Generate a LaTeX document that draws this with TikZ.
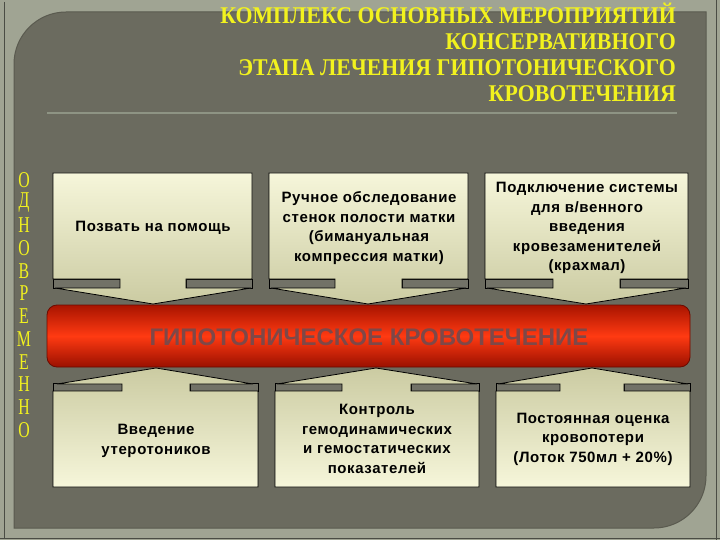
\documentclass[tikz,border=0pt]{standalone}
\usepackage{fontspec}
\setmainfont{Liberation Sans}
\newfontfamily\titlefont{Liberation Serif}[FakeStretch=0.91]
\newfontfamily\vertfont{Liberation Serif}[FakeStretch=0.7]
\newfontfamily\boxfont{Liberation Sans}[LetterSpace=4]
\definecolor{framecol}{HTML}{A0A493}
\definecolor{frameedge}{HTML}{4A4C44}
\definecolor{panelcol}{HTML}{6B6B5F}
\definecolor{paneledge}{HTML}{5A5A4F}
\definecolor{rulecol}{HTML}{8E9484}
\definecolor{titleyellow}{HTML}{F2F21E}
\definecolor{boxlight}{HTML}{F6F6DA}
\definecolor{boxdark}{HTML}{CBCBA2}
\definecolor{stripcol}{HTML}{727267}
\definecolor{bandtop}{HTML}{A81400}
\definecolor{bandmid}{HTML}{FF3A12}
\definecolor{bandbot}{HTML}{9A1000}
\definecolor{bandtext}{HTML}{7E4848}
\tikzset{
  titletext/.style={anchor=base east, inner sep=0pt, text=titleyellow, font=\titlefont\bfseries\fontsize{24}{26}\selectfont},
  vertletter/.style={inner sep=0pt, text=titleyellow, font=\vertfont\fontsize{22.6}{24}\selectfont},
  downbox/.style={draw=black, line width=0.8pt, top color=boxlight, bottom color=boxdark},
  upbox/.style={draw=black, line width=0.8pt, top color=boxdark, bottom color=boxlight},
  strip/.style={draw=black, line width=0.6pt, fill=stripcol},
  boxtext/.style={align=center, inner sep=0pt, text=black, font=\boxfont\bfseries\fontsize{15}{19.5}\selectfont},
}
\begin{document}
\begin{tikzpicture}[x=1pt,y=-1pt]
\useasboundingbox (0,0) rectangle (720,540);
% outer frame
\fill[framecol] (0,0) rectangle (720,540);
\draw[frameedge, line width=1pt] (4,2) -- (4,538);
\draw[frameedge, line width=1.5pt] (0,538.5) -- (720,538.5);
\draw[frameedge, line width=1pt] (716,0) -- (716,540);
% panel
\fill[panelcol, draw=paneledge, line width=1pt] (14,528) -- (14,300) [rounded corners=52pt] -- (14,12) -- (300,12) [sharp corners] -- (706,12) -- (706,300) [rounded corners=52pt] -- (706,528) -- (300,528) [sharp corners] -- cycle;
% title
\node[titletext] (t1) at (676,24) {КОМПЛЕКС ОСНОВНЫХ МЕРОПРИЯТИЙ};
\node[titletext] (t2) at (676,50) {КОНСЕРВАТИВНОГО};
\node[titletext] (t3) at (676,76) {ЭТАПА ЛЕЧЕНИЯ ГИПОТОНИЧЕСКОГО};
\node[titletext] (t4) at (676,102) {КРОВОТЕЧЕНИЯ};
\draw[rulecol, line width=2pt] (47,113) -- (677,113);
% vertical word
\foreach \l [count=\i] in {О,Д,Н,О,В,Р,Е,М,Е,Н,Н,О}
  \node[vertletter] (v\i) at (24,{180+22.7*(\i-1)}) {\l};
% top callouts
\draw[strip] (53,279) rectangle (120,288);
\draw[strip] (186,279) rectangle (252,288);
\draw[downbox] (53,173) -- (252,173) -- (252,279) -- (186,279) -- (186,288) -- (251,288) -- (153,304) -- (55,288) -- (120,288) -- (120,279) -- (53,279) -- cycle;
\draw[strip] (269,279) rectangle (335,288);
\draw[strip] (402,279) rectangle (468,288);
\draw[downbox] (269,173) -- (468,173) -- (468,279) -- (402,279) -- (402,288) -- (466,288) -- (368,304) -- (271,288) -- (335,288) -- (335,279) -- (269,279) -- cycle;
\draw[strip] (485,279) rectangle (553,288);
\draw[strip] (620,279) rectangle (688,288);
\draw[downbox] (485,173) -- (688,173) -- (688,279) -- (620,279) -- (620,288) -- (686,288) -- (586,304) -- (487,288) -- (553,288) -- (553,279) -- (485,279) -- cycle;
% band
\draw[draw=bandbot!70!black, line width=0.8pt, rounded corners=10pt, top color=bandtop, bottom color=bandbot, middle color=bandmid] (47,305) rectangle (690,367);
\node[font=\bfseries\fontsize{24}{26}\selectfont, text=bandtext, inner sep=0pt] (band) at (369,337) {ГИПОТОНИЧЕСКОЕ КРОВОТЕЧЕНИЕ};
% bottom callouts
\draw[strip] (53,383) rectangle (122,391);
\draw[strip] (190,383) rectangle (258,391);
\draw[upbox] (53,487) -- (258,487) -- (258,391) -- (190,391) -- (190,384) -- (253,384) -- (156,368) -- (57,384) -- (122,384) -- (122,391) -- (53,391) -- cycle;
\draw[strip] (275,383) rectangle (342,391);
\draw[strip] (411,383) rectangle (479,391);
\draw[upbox] (275,487) -- (479,487) -- (479,391) -- (411,391) -- (411,384) -- (477,384) -- (376,368) -- (277,384) -- (342,384) -- (342,391) -- (275,391) -- cycle;
\draw[strip] (496,383) rectangle (560,391);
\draw[strip] (624,383) rectangle (690,391);
\draw[upbox] (496,487) -- (690,487) -- (690,391) -- (624,391) -- (624,384) -- (688,384) -- (592,368) -- (498,384) -- (560,384) -- (560,391) -- (496,391) -- cycle;
% texts
\node[boxtext] (a1) at (153,228) {Позвать на помощь};
\node[boxtext] (a2) at (369,228) {Ручное обследование\\стенок полости матки\\(бимануальная\\компрессия матки)};
\node[boxtext] (a3) at (587,228) {Подключение системы\\для в/венного\\введения\\кровезаменителей\\(крахмал)};
\node[boxtext] (b1) at (156,441) {Введение\\утеротоников};
\node[boxtext] (b2) at (377,439) {Контроль\\гемодинамических\\и гемостатических\\показателей};
\node[boxtext] (b3) at (593,439) {Постоянная оценка\\кровопотери\\(Лоток 750мл + 20\%)};
\end{tikzpicture}
\end{document}
